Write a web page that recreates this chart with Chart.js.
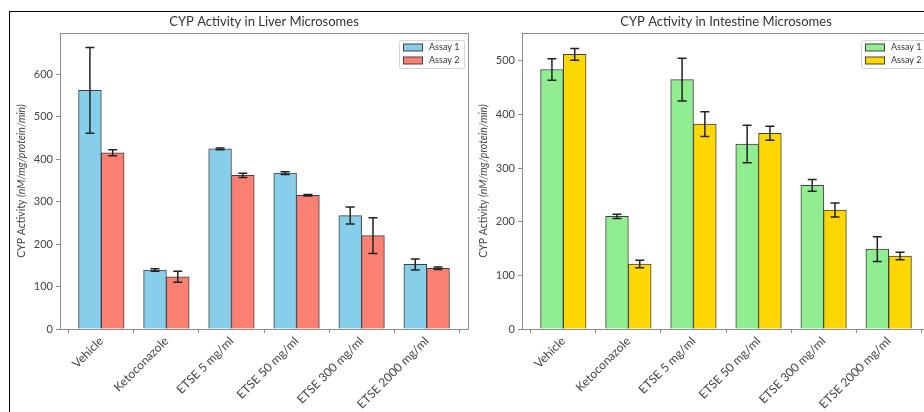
<!DOCTYPE html>
<html>
<head>
<meta charset="utf-8">
<script src="https://cdn.jsdelivr.net/npm/chart.js@4.4.1/dist/chart.umd.min.js"></script>
<style>
  body { margin: 0; background: #fff; width: 924px; height: 412px; overflow: hidden; position: relative; }
  #frame { position: absolute; left: 9px; top: 11px; width: 930px; height: 420px; border-left: 1px solid #000; border-top: 1px solid #000; }
  canvas { position: absolute; top: 0; }
  #liver { left: 0; }
  #intestine { left: 462px; }
</style>
</head>
<body>
<div id="frame"></div>
<canvas id="liver" width="475" height="412"></canvas>
<canvas id="intestine" width="475" height="412"></canvas>
<script>
// Values

const categories = ["Vehicle", "Ketoconazole", "ETSE 5 mg/ml", "ETSE 50 mg/ml", "ETSE 300 mg/ml", "ETSE 2000 mg/ml"];
const seriesNames = ["Assay 1", "Assay 2"];

const liverAssay1 = [562, 139, 424, 367, 267, 152];
const liverAssay1Err = [101, 3, 2, 3, 20, 13];
const liverAssay2 = [415, 123, 362, 315, 220, 143];
const liverAssay2Err = [7, 13, 5, 2, 42, 3];

const intestineAssay1 = [484, 210, 465, 345, 268, 149];
const intestineAssay1Err = [20, 4, 40, 35, 11, 23];
const intestineAssay2 = [512, 121, 382, 365, 222, 136];
const intestineAssay2Err = [11, 7, 23, 13, 13, 7];

const liverTicks = [0, 100, 200, 300, 400, 500, 600];
const intestineTicks = [0, 100, 200, 300, 400, 500];

const FONT = "Lato, 'DejaVu Sans', sans-serif";
const barWidth = 0.35;

function toPoints(values, offset) {
  return values.map((v, i) => ({ x: i + offset, y: v }));
}

// error bars, spines, legend and y title drawn on top
const extras = {
  id: "extras",
  afterDatasetsDraw(chart, args, opts) {
    const ctx = chart.ctx;
    const y = chart.scales.y;
    ctx.save();
    ctx.strokeStyle = "#222";
    ctx.lineWidth = 1.5;
    chart.data.datasets.forEach((ds, di) => {
      const meta = chart.getDatasetMeta(di);
      meta.data.forEach((bar, i) => {
        const v = ds.data[i].y, e = ds.errors[i];
        const top = y.getPixelForValue(v + e);
        const bot = y.getPixelForValue(v - e);
        ctx.beginPath();
        ctx.moveTo(bar.x, top); ctx.lineTo(bar.x, bot);
        ctx.moveTo(bar.x - 4.5, top); ctx.lineTo(bar.x + 4.5, top);
        ctx.moveTo(bar.x - 4.5, bot); ctx.lineTo(bar.x + 4.5, bot);
        ctx.stroke();
      });
    });
    ctx.restore();
  },
  afterDraw(chart, args, opts) {
    const ctx = chart.ctx;
    const a = chart.chartArea;
    ctx.save();
    // box around plot
    ctx.strokeStyle = "#8c8c8c";
    ctx.lineWidth = 1;
    ctx.strokeRect(Math.round(a.left) + 0.5, Math.round(a.top) + 0.5, Math.round(a.right - a.left), Math.round(a.bottom - a.top));

    // legend
    const lw = 65, lh = 28;
    const lx = a.right - lw - 4, ly = a.top + 7;
    ctx.fillStyle = "rgba(255,255,255,0.85)";
    ctx.strokeStyle = "#d5d5d5";
    ctx.beginPath();
    ctx.roundRect(lx + 0.5, ly + 0.5, lw, lh, 2);
    ctx.fill();
    ctx.stroke();
    ctx.font = "9px " + FONT;
    ctx.textBaseline = "middle";
    chart.data.datasets.forEach((ds, di) => {
      const ry = ly + 7.5 + di * 13;
      ctx.fillStyle = ds.backgroundColor;
      ctx.fillRect(lx + 4, ry - 3.5, 19, 7);
      ctx.strokeStyle = "#404040";
      ctx.strokeRect(lx + 4.5, ry - 3.5, 19, 7);
      ctx.fillStyle = "#333";
      ctx.fillText(ds.label, lx + 30, ry);
    });

    // y axis title, unit part in italics
    const cy = (a.top + a.bottom) / 2;
    ctx.translate(22, cy);
    ctx.rotate(-Math.PI / 2);
    const p1 = "CYP Activity ", p2 = "(nM/mg/protein/min)";
    ctx.font = "10.5px " + FONT;
    const w1 = ctx.measureText(p1).width;
    ctx.font = "italic 10.5px " + FONT;
    const w2 = ctx.measureText(p2).width;
    const start = -(w1 + w2) / 2;
    ctx.fillStyle = "#444";
    ctx.textAlign = "left";
    ctx.font = "10.5px " + FONT;
    ctx.fillText(p1, start, 0);
    ctx.font = "italic 10.5px " + FONT;
    ctx.fillText(p2, start + w1, 0);
    ctx.restore();
  }
};

function makeChart(id, title, a1, a1err, a2, a2err, colors, ymax, yticks) {
  const ctx = document.getElementById(id).getContext("2d");
  return new Chart(ctx, {
    type: "bar",
    data: {
      datasets: [{
        label: seriesNames[0],
        data: toPoints(a1, -barWidth / 2),
        errors: a1err,
        backgroundColor: colors[0],
        borderColor: "#404040",
        borderWidth: 1,
        grouped: false,
        barPercentage: 1,
        categoryPercentage: 1
      }, {
        label: seriesNames[1],
        data: toPoints(a2, barWidth / 2),
        errors: a2err,
        backgroundColor: colors[1],
        borderColor: "#404040",
        borderWidth: 1,
        grouped: false,
        barPercentage: 1,
        categoryPercentage: 1
      }]
    },
    options: {
      responsive: false,
      animation: false,
      layout: { padding: { left: 0, right: 7, top: 0, bottom: 0 } },
      plugins: {
        legend: { display: false },
        tooltip: { enabled: false },
        title: {
          display: true,
          text: title,
          fullSize: false,
          color: "#333",
          font: { family: FONT, size: 13, weight: "normal" },
          padding: { top: 14, bottom: 3.4 }
        }
      },
      scales: {
        x: {
          type: "linear",
          min: -0.635,
          max: 5.635,
          offset: false,
          afterBuildTicks: (s) => { s.ticks = categories.map((c, i) => ({ value: i })); },
          afterFit: (s) => { s.height = 83; },
          grid: { drawOnChartArea: false, drawTicks: true, tickLength: 4, color: "#8c8c8c" },
          border: { color: "#8c8c8c" },
          ticks: {
            autoSkip: false,
            minRotation: 45,
            maxRotation: 45,
            padding: 1,
            color: "#444",
            font: { family: FONT, size: 12 },
            callback: (v) => categories[v]
          }
        },
        y: {
          min: 0,
          max: ymax,
          afterBuildTicks: (s) => { s.ticks = yticks.map((t) => ({ value: t })); },
          afterFit: (s) => { s.width = 60; },
          grid: { drawOnChartArea: false, drawTicks: true, tickLength: 4, color: "#8c8c8c" },
          border: { color: "#8c8c8c" },
          ticks: {
            padding: 3,
            color: "#444",
            font: { family: FONT, size: 11 }
          }
        }
      }
    },
    plugins: [extras]
  });
}

makeChart("liver", "CYP Activity in Liver Microsomes",
  liverAssay1, liverAssay1Err, liverAssay2, liverAssay2Err,
  ["#87CEEB", "#FA8072"], 697, liverTicks);

makeChart("intestine", "CYP Activity in Intestine Microsomes",
  intestineAssay1, intestineAssay1Err, intestineAssay2, intestineAssay2Err,
  ["#90EE90", "#FFD700"], 552, intestineTicks);
</script>
</body>
</html>
